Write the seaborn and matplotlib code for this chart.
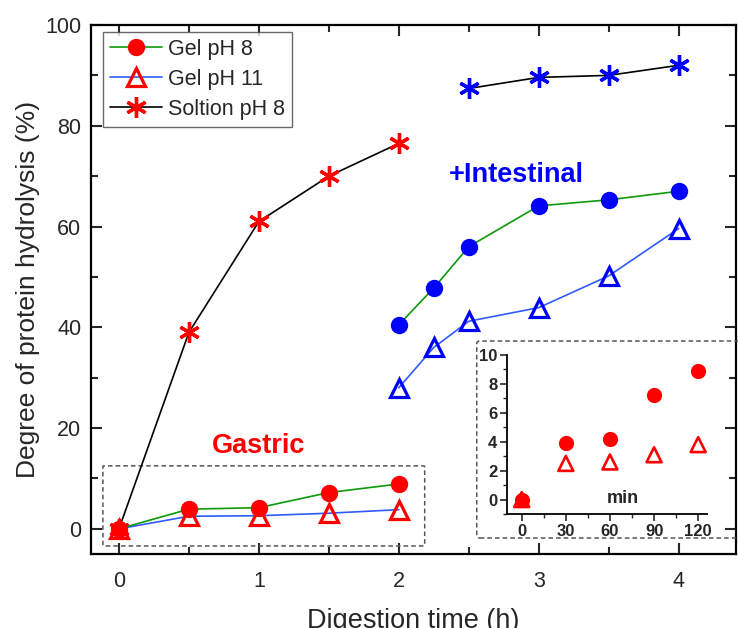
import matplotlib
matplotlib.use("Agg")
import matplotlib.pyplot as plt
import seaborn as sns
from matplotlib.lines import Line2D
from matplotlib.patches import FancyBboxPatch
from matplotlib.ticker import MultipleLocator

# gastric phase (h)
gastric_t = [0, 0.5, 1, 1.5, 2]
gel8_gastric = [0, 3.9, 4.2, 7.2, 8.9]
gel11_gastric = [0, 2.5, 2.6, 3.1, 3.8]
sol_gastric = [0, 39, 61, 70, 76.5]

# + intestinal phase (h)
int_t = [2, 2.25, 2.5, 3, 3.5, 4]
gel8_int = [40.5, 47.8, 56, 64.1, 65.3, 67]
gel11_int = [28, 36, 41.2, 43.9, 50.2, 59.6]
sol_int_t = [2.5, 3, 3.5, 4]
sol_int = [87.4, 89.6, 90, 92]

# inset: gastric phase in minutes
inset_min = [0, 30, 60, 90, 120]

RED = "#FF0000"
BLUE = "#0000FF"
GREEN = "#0A9A0A"
LBLUE = "#2F5BFF"

sns.set_theme(style="ticks")
plt.rcParams["font.family"] = ["Liberation Sans", "DejaVu Sans"]

fig = plt.figure(figsize=(7.38, 6.28), dpi=100)
ax = fig.add_axes([0.1233, 0.1178, 0.874, 0.8424])

STAR = (6, 2, 0)
circ = dict(marker="o", markersize=12.5, markeredgewidth=0)
tri = dict(marker="^", markersize=13, markeredgewidth=2.3)
star = dict(marker=STAR, markersize=15, markeredgewidth=2.4)

def seg(x, y, lc, mk, mc, z):
    face = "none" if mk is tri else mc
    sns.lineplot(x=x, y=y, ax=ax, color=lc, lw=1.2, sort=False, estimator=None,
                 markerfacecolor=face, markeredgecolor=mc, zorder=z, **mk)

seg(gastric_t, sol_gastric, "black", star, RED, 3)
seg(gastric_t, gel11_gastric, LBLUE, tri, RED, 4)
seg(gastric_t, gel8_gastric, GREEN, circ, RED, 5)
seg(sol_int_t, sol_int, "black", star, BLUE, 3)
seg(int_t, gel11_int, LBLUE, tri, BLUE, 4)
seg(int_t, gel8_int, GREEN, circ, BLUE, 5)

ax.set_xlim(-0.2, 4.41)
ax.set_ylim(-5, 100)
ax.xaxis.set_major_locator(MultipleLocator(1))
ax.xaxis.set_minor_locator(MultipleLocator(0.5))
ax.yaxis.set_major_locator(MultipleLocator(20))
ax.yaxis.set_minor_locator(MultipleLocator(10))
ax.tick_params(which="both", direction="in", top=True, right=True,
               width=1.5, labelsize=15.5, pad=7)
ax.tick_params(which="major", length=8)
ax.tick_params(which="minor", length=5)
ax.tick_params(axis="x", labeltop=False, pad=12)
for s in ax.spines.values():
    s.set_linewidth(1.6)
    s.set_color("black")
    s.set_visible(True)

ax.set_xlabel("Digestion time (h)", fontsize=19.5, labelpad=12)
ax.set_ylabel("Degree of protein hydrolysis (%)", fontsize=19, labelpad=4)

ax.text(1.0, 16.5, "Gastric", color=RED, fontsize=19.5, fontweight="bold",
        ha="center", va="center")
ax.text(2.84, 70.3, "+Intestinal", color=BLUE, fontsize=19.5, fontweight="bold",
        ha="center", va="center")

# dashed box round gastric data
ax.add_patch(FancyBboxPatch((-0.115, -3.4), 2.30, 15.9,
                            boxstyle="round,pad=0,rounding_size=0.02",
                            fill=False, ls=(0, (3, 2)), lw=1.1, ec="#555555",
                            zorder=2, mutation_aspect=5))

handles = [
    Line2D([], [], color=GREEN, lw=1.2, marker="o", ms=12.5, mfc=RED, mec=RED, mew=0),
    Line2D([], [], color=LBLUE, lw=1.2, marker="^", ms=13, mfc="none", mec=RED, mew=2.3),
    Line2D([], [], color="black", lw=1.2, marker=STAR, ms=15, mfc=RED, mec=RED, mew=2.4),
]
leg = ax.legend(handles, ["Gel pH 8", "Gel pH 11", "Soltion pH 8"], loc="upper left",
                bbox_to_anchor=(0.0186, 0.987), fontsize=15.5, frameon=True, fancybox=False,
                handlelength=2.4, handletextpad=0.3, labelspacing=0.42, borderpad=0.32,
                borderaxespad=0)
leg.get_frame().set_edgecolor("#444444")
leg.get_frame().set_linewidth(1.0)

# dashed box round inset
fig.patches.append(FancyBboxPatch((0.646, 0.1433), 0.37, 0.3137,
                                  boxstyle="round,pad=0,rounding_size=0.004",
                                  transform=fig.transFigure, fill=False,
                                  ls=(0, (3, 2)), lw=1.1, ec="#555555", zorder=5))

ins = fig.add_axes([0.687, 0.1815, 0.271, 0.2532])
ins.set_facecolor("none")
sns.scatterplot(x=inset_min, y=gel8_gastric, ax=ins, marker="o", s=120,
                color=RED, edgecolor=RED, linewidth=0, zorder=4)
sns.scatterplot(x=inset_min, y=gel11_gastric, ax=ins, marker="^", s=115,
                facecolor="none", edgecolor=RED, linewidth=1.9, zorder=3)
ins.set_xlim(-10, 126)
ins.set_ylim(-1, 10)
ins.set_xticks(inset_min)
ins.set_yticks([0, 2, 4, 6, 8, 10])
ins.xaxis.set_minor_locator(MultipleLocator(15))
ins.yaxis.set_minor_locator(MultipleLocator(1))
for s in ["top", "right"]:
    ins.spines[s].set_visible(False)
for s in ["left", "bottom"]:
    ins.spines[s].set_linewidth(1.3)
    ins.spines[s].set_color("black")
ins.tick_params(which="major", direction="out", length=5, width=1.2, labelsize=12, pad=2)
ins.tick_params(which="minor", direction="out", length=3, width=1.0)
for lab in ins.get_xticklabels() + ins.get_yticklabels():
    lab.set_fontweight("bold")
ins.text(69, 0.1, "min", fontsize=13, fontweight="bold", ha="center", va="center")

fig.savefig("out.png", dpi=100)
